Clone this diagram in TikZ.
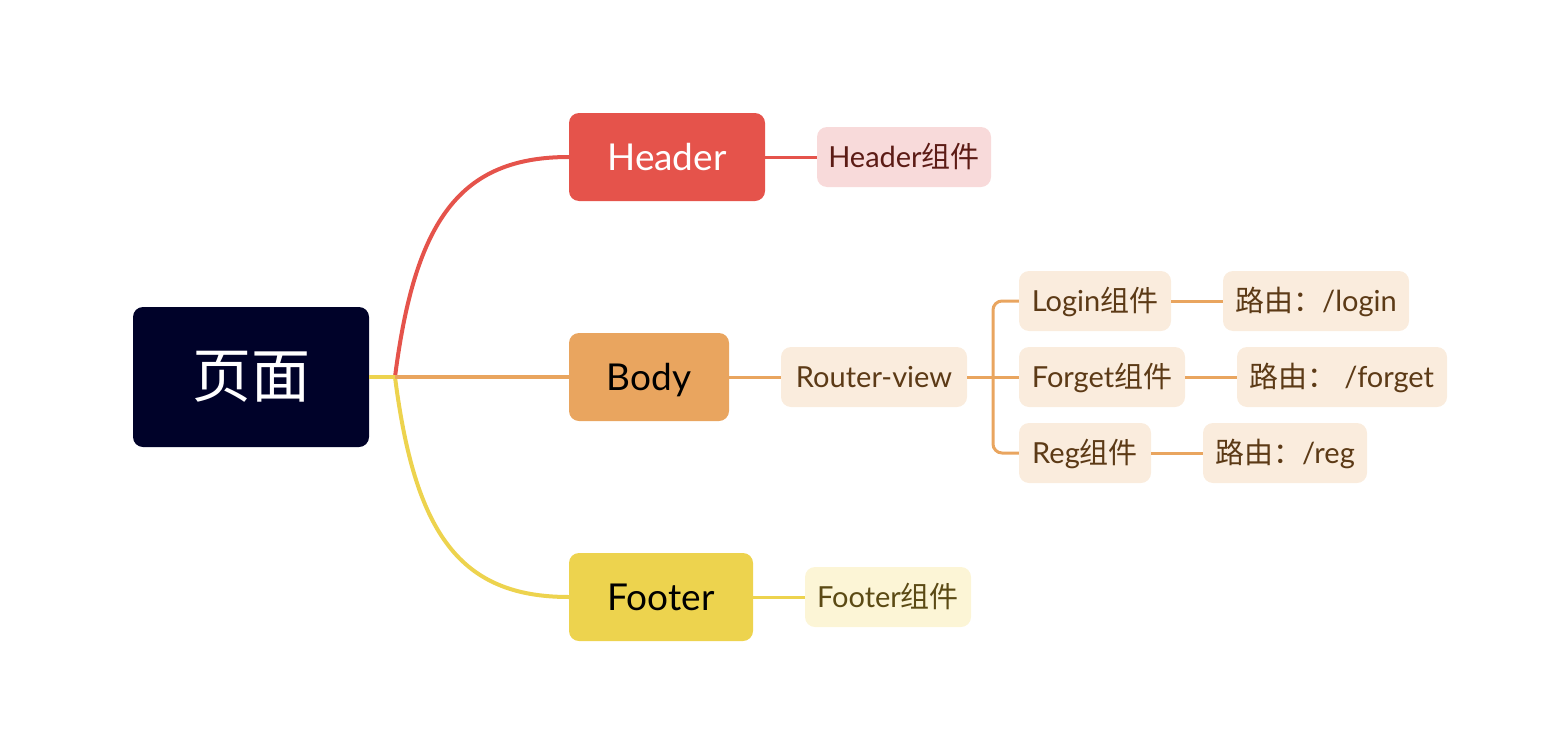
\documentclass[tikz,border=0pt]{standalone}
\usepackage{fontspec}
\setmainfont{Lato}
\newfontfamily\cjk{Noto Sans CJK SC}
\definecolor{rootfill}{HTML}{000229}
\definecolor{redc}{HTML}{E5534B}
\definecolor{redsub}{HTML}{F8DADA}
\definecolor{redtxt}{HTML}{5C1B15}
\definecolor{orac}{HTML}{E9A55F}
\definecolor{orasub}{HTML}{FAECDD}
\definecolor{oratxt}{HTML}{5C3A16}
\definecolor{yelc}{HTML}{EDD34E}
\definecolor{yelsub}{HTML}{FCF5D6}
\definecolor{yeltxt}{HTML}{5B4A14}
\begin{document}
\begin{tikzpicture}[x=1pt,y=-1pt,
  box/.style={rounded corners=10pt, inner sep=0pt, align=center},
  mainbox/.style={box, minimum height=88pt, font=\fontsize{37}{42}\selectfont, text height=30pt, text depth=3.5pt},
  subbox/.style={box, minimum height=60pt, font=\fontsize{29}{33}\selectfont, text height=24pt, text depth=3.2pt},
  mainline/.style={line width=4pt},
  subline/.style={line width=3pt},
]
\useasboundingbox (0,0) rectangle (1546,736);
% connectors
\coordinate (j) at (395,377);
\coordinate (bk) at (993,377);

% nodes
\node[box, fill=rootfill, text=white, minimum width=236pt, minimum height=140pt, font=\cjk\fontsize{59}{62}\selectfont] (root) at (251,377) {页面};
\node[mainbox, fill=redc, text=white, minimum width=196pt] (header) at (667,157) {Header};
\node[mainbox, fill=orac, text=black, minimum width=160pt] (body) at (649,377) {Body};
\node[mainbox, fill=yelc, text=black, minimum width=184pt] (footer) at (661,597) {Footer};

\node[subbox, fill=redsub, text=redtxt, minimum width=174pt] (hsub) at (904,157) {Header{\cjk 组件}};
\node[subbox, fill=orasub, text=oratxt, minimum width=186pt] (router) at (874,377) {Router-view};
\node[subbox, fill=orasub, text=oratxt, minimum width=152pt] (login) at (1095,301) {Login{\cjk 组件}};
\node[subbox, fill=orasub, text=oratxt, minimum width=166pt] (forget) at (1102,377) {Forget{\cjk 组件}};
\node[subbox, fill=orasub, text=oratxt, minimum width=132pt] (reg) at (1085,453) {Reg{\cjk 组件}};
\node[subbox, fill=orasub, text=oratxt, minimum width=186pt] (rlogin) at (1316,301) {{\cjk 路由：}/login};
\node[subbox, fill=orasub, text=oratxt, minimum width=210pt] (rforget) at (1342,377) {{\cjk 路由：}\ /forget};
\node[subbox, fill=orasub, text=oratxt, minimum width=164pt] (rreg) at (1285,453) {{\cjk 路由：}/reg};
\node[subbox, fill=yelsub, text=yeltxt, minimum width=166pt] (fsub) at (888,597) {Footer{\cjk 组件}};

% main connectors
\draw[mainline, redc] (j) .. controls (415,220) and (460,157) .. (header.west);
\draw[mainline, yelc] (j) .. controls (415,534) and (460,597) .. (footer.west);
\draw[mainline, orac] (j) -- (body.west);
\draw[mainline, yelc] (root.east) -- (j);
% sub connectors
\draw[subline, redc] (header.east) -- (hsub.west);
\draw[subline, yelc] (footer.east) -- (fsub.west);
\draw[subline, orac] (body.east) -- (router.west);
\draw[subline, orac] (router.east) -- (forget.west);
\draw[subline, orac, rounded corners=9pt] (login.west) -| (bk) |- (reg.west);
\draw[subline, orac] (login.east) -- (rlogin.west);
\draw[subline, orac] (forget.east) -- (rforget.west);
\draw[subline, orac] (reg.east) -- (rreg.west);
\end{tikzpicture}
\end{document}
